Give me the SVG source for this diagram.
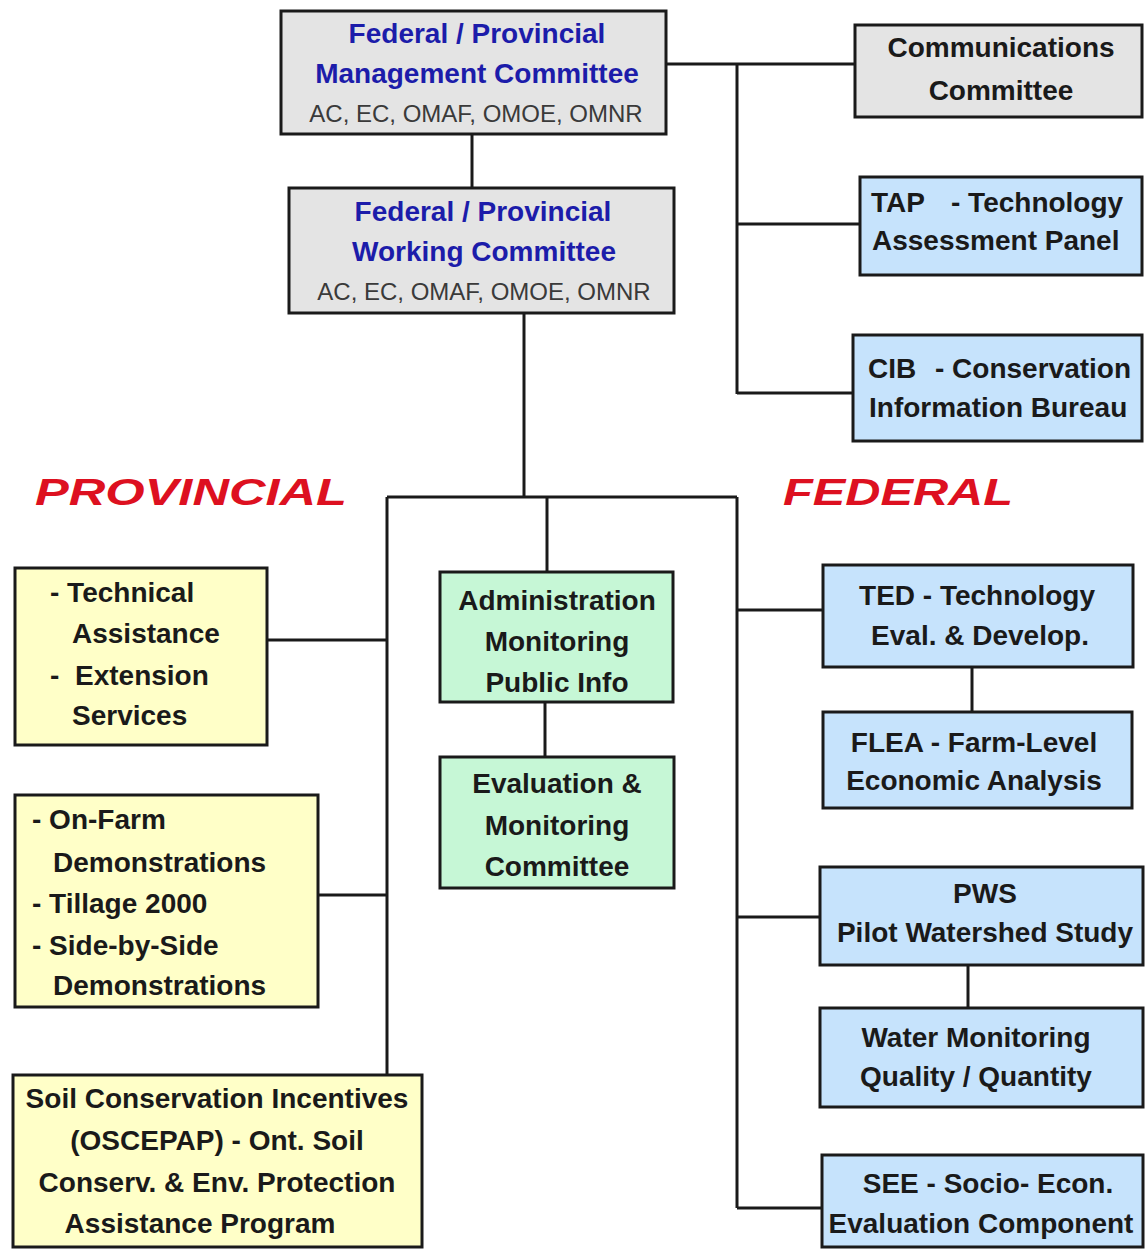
<svg xmlns="http://www.w3.org/2000/svg" width="1145" height="1249" viewBox="0 0 1145 1249">
<style>
.box{stroke:#1a1a1a;stroke-width:3}
.gray{fill:#e4e4e4}
.blue{fill:#c6e3fc}
.yellow{fill:#ffffc8}
.green{fill:#c6f7d6}
.t{font-family:"Liberation Sans",Arial,sans-serif;font-weight:bold;font-size:28px;fill:#1a1a1a}
.c{text-anchor:middle}
.bl{fill:#1c1caa}
.sub{font-family:"Liberation Sans",Arial,sans-serif;font-size:24px;fill:#3a3a3a;text-anchor:middle}
.hd{font-family:"Liberation Sans",Arial,sans-serif;font-weight:bold;font-style:italic;font-size:37px;fill:#dd1020}
.ln{stroke:#1a1a1a;stroke-width:3;fill:none}
</style>
<rect width="1145" height="1249" fill="#ffffff"/>
<g id="connectors">
<line class="ln" x1="472" y1="134" x2="472" y2="188"/>
<line class="ln" x1="666" y1="64" x2="855" y2="64"/>
<line class="ln" x1="737" y1="64" x2="737" y2="394"/>
<line class="ln" x1="737" y1="224" x2="860" y2="224"/>
<line class="ln" x1="737" y1="393" x2="853" y2="393"/>
<line class="ln" x1="524" y1="313" x2="524" y2="497"/>
<line class="ln" x1="387" y1="497" x2="737" y2="497"/>
<line class="ln" x1="547" y1="497" x2="547" y2="572"/>
<line class="ln" x1="387" y1="497" x2="387" y2="1075"/>
<line class="ln" x1="267" y1="640" x2="387" y2="640"/>
<line class="ln" x1="318" y1="895" x2="387" y2="895"/>
<line class="ln" x1="545" y1="702" x2="545" y2="757"/>
<line class="ln" x1="737" y1="497" x2="737" y2="1208"/>
<line class="ln" x1="737" y1="610" x2="823" y2="610"/>
<line class="ln" x1="972" y1="667" x2="972" y2="712"/>
<line class="ln" x1="737" y1="917" x2="820" y2="917"/>
<line class="ln" x1="968" y1="965" x2="968" y2="1008"/>
<line class="ln" x1="737" y1="1208" x2="822" y2="1208"/>
</g>
<g id="label-provincial"><text class="hd" x="35" y="505" textLength="312" lengthAdjust="spacingAndGlyphs">PROVINCIAL</text></g>
<g id="label-federal"><text class="hd" x="783" y="505" textLength="230" lengthAdjust="spacingAndGlyphs">FEDERAL</text></g>
<g id="mgmt">
<rect class="box gray" x="281" y="11" width="385" height="123"/>
<text class="t c bl" x="477" y="43">Federal / Provincial</text>
<text class="t c bl" x="477" y="83">Management Committee</text>
<text class="sub" x="476" y="122">AC, EC, OMAF, OMOE, OMNR</text>
</g>
<g id="working">
<rect class="box gray" x="289" y="188" width="385" height="125"/>
<text class="t c bl" x="483" y="221">Federal / Provincial</text>
<text class="t c bl" x="484" y="261">Working Committee</text>
<text class="sub" x="484" y="300">AC, EC, OMAF, OMOE, OMNR</text>
</g>
<g id="comm">
<rect class="box gray" x="855" y="25" width="287" height="92"/>
<text class="t c" x="1001" y="57">Communications</text>
<text class="t c" x="1001" y="100">Committee</text>
</g>
<g id="tap">
<rect class="box blue" x="860" y="177" width="282" height="98"/>
<text class="t" x="871" y="212">TAP</text>
<text class="t" x="951" y="212">- Technology</text>
<text class="t" x="872" y="250">Assessment Panel</text>
</g>
<g id="cib">
<rect class="box blue" x="853" y="335" width="289" height="106"/>
<text class="t" x="868" y="378">CIB</text>
<text class="t" x="935" y="378">- Conservation</text>
<text class="t" x="869" y="417">Information Bureau</text>
</g>
<g id="technical">
<rect class="box yellow" x="15" y="568" width="252" height="177"/>
<text class="t" x="50" y="602">- Technical</text>
<text class="t" x="72" y="643">Assistance</text>
<text class="t" x="50" y="685">-</text>
<text class="t" x="75" y="685">Extension</text>
<text class="t" x="72" y="725">Services</text>
</g>
<g id="onfarm">
<rect class="box yellow" x="15" y="795" width="303" height="212"/>
<text class="t" x="32" y="829">- On-Farm</text>
<text class="t" x="53" y="872">Demonstrations</text>
<text class="t" x="32" y="913">- Tillage 2000</text>
<text class="t" x="32" y="955">- Side-by-Side</text>
<text class="t" x="53" y="995">Demonstrations</text>
</g>
<g id="soil">
<rect class="box yellow" x="13" y="1075" width="409" height="172"/>
<text class="t c" x="217" y="1108">Soil Conservation Incentives</text>
<text class="t c" x="217" y="1150">(OSCEPAP) - Ont. Soil</text>
<text class="t c" x="217" y="1192">Conserv. &amp; Env. Protection</text>
<text class="t c" x="200" y="1233">Assistance Program</text>
</g>
<g id="admin">
<rect class="box green" x="440" y="572" width="233" height="130"/>
<text class="t c" x="557" y="610">Administration</text>
<text class="t c" x="557" y="651">Monitoring</text>
<text class="t c" x="557" y="692">Public Info</text>
</g>
<g id="evaluation">
<rect class="box green" x="440" y="757" width="234" height="131"/>
<text class="t c" x="557" y="793">Evaluation &amp;</text>
<text class="t c" x="557" y="835">Monitoring</text>
<text class="t c" x="557" y="876">Committee</text>
</g>
<g id="ted">
<rect class="box blue" x="823" y="565" width="310" height="102"/>
<text class="t c" x="977" y="605">TED - Technology</text>
<text class="t c" x="980" y="645">Eval. &amp; Develop.</text>
</g>
<g id="flea">
<rect class="box blue" x="823" y="712" width="309" height="96"/>
<text class="t c" x="974" y="752">FLEA - Farm-Level</text>
<text class="t c" x="974" y="790">Economic Analysis</text>
</g>
<g id="pws">
<rect class="box blue" x="820" y="867" width="323" height="98"/>
<text class="t c" x="985" y="903">PWS</text>
<text class="t c" x="985" y="942">Pilot Watershed Study</text>
</g>
<g id="water">
<rect class="box blue" x="820" y="1008" width="323" height="99"/>
<text class="t c" x="976" y="1047">Water Monitoring</text>
<text class="t c" x="976" y="1086">Quality / Quantity</text>
</g>
<g id="see">
<rect class="box blue" x="822" y="1155" width="321" height="92"/>
<text class="t c" x="988" y="1193">SEE - Socio- Econ.</text>
<text class="t c" x="981" y="1233">Evaluation Component</text>
</g>
</svg>
